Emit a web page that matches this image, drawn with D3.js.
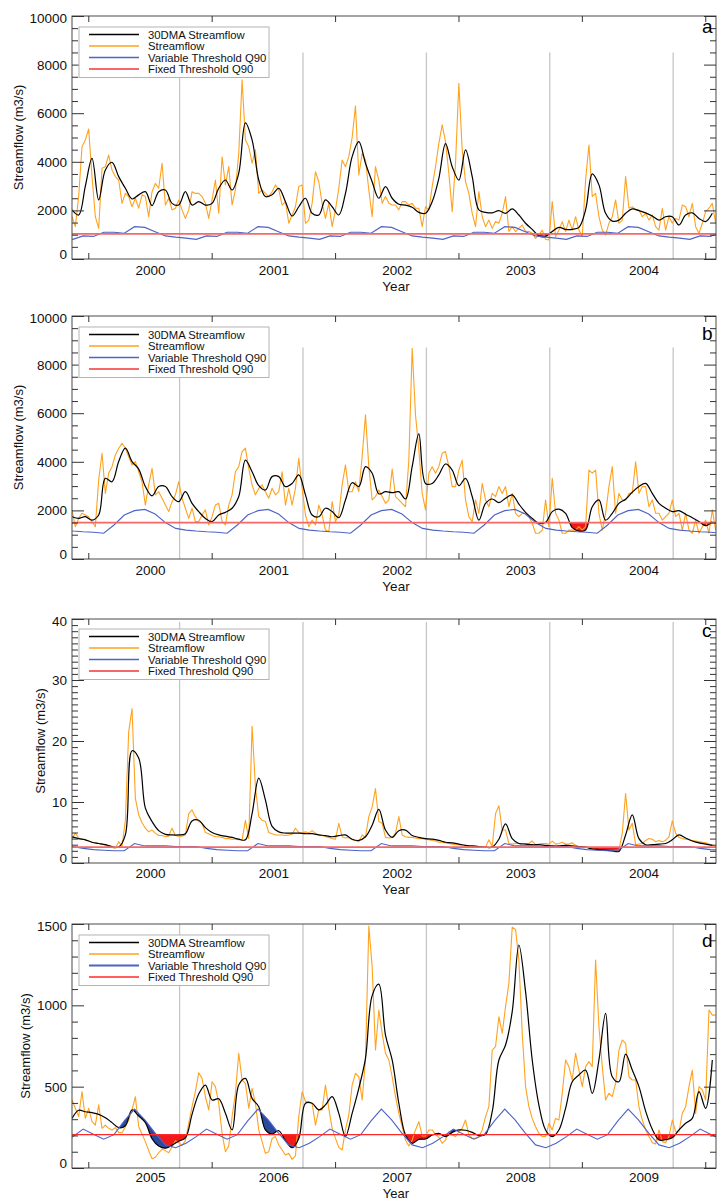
<!DOCTYPE html>
<html><head><meta charset="utf-8">
<script src="https://cdnjs.cloudflare.com/ajax/libs/d3/7.8.5/d3.min.js"></script>
<style>
body{margin:0;background:#fff;}
svg{display:block;font-family:"Liberation Sans",Arial,Helvetica,sans-serif;}
</style></head><body>
<svg id="chart" width="717" height="1201"></svg>
<script>
// ---------------- DATA ----------------
const yearsAC = [2000, 2001, 2002, 2003, 2004];
const yearsD = [2005, 2006, 2007, 2008, 2009];
const domainAC = [1999.868, 2005.087];
const domainD = [2004.868, 2010.087];
const STEP_FLOW = 1 / 37;   // years between streamflow samples
const STEP_DMA = 2 / 37;    // years between 30DMA samples
const WATER_YEAR_FRAC = 0.74; // vertical reference lines (water-year start)

// Panel a (m3/s)
const flowA = [1740,1330,2570,4620,4900,5350,3390,1740,1260,3730,3800,4280,3660,3390,3250,2290,2700,2570,2150,2500,
2090,2640,2570,1740,2770,3110,2910,3940,2220,2500,2020,2090,2430,2020,1670,2020,2770,2700,2700,2570,
2290,1670,2430,3250,1880,4210,3050,3800,2220,2840,4350,7370,4900,4620,3940,4490,2700,2840,2700,2570,
2770,3050,2840,2220,2360,1470,1810,2150,2980,3050,1470,1600,2290,3590,3180,2290,1670,2290,1330,2020,
2910,4070,3800,4210,5000,6300,3460,
4350,4075,2840,1740,3800,3250,2290,2570,2290,2220,2220,2020,2360,2360,2220,2290,2090,2090,1330,2150,
2020,2980,3800,4760,5520,4830,3530,1950,3940,7230,4490,3180,2700,1880,1330,2770,1740,1330,1600,1260,
1540,1470,1880,2570,1130,1330,1130,1260,1400,1130,1130,1060,850,990,1190,810,780,2360,920,1190,
1540,1130,1600,1190,1740,1190,920,3250,4690,2570,2700,1740,1190,990,1470,1740,2430,1470,1600,3390,
2090,2150,2020,2020,1740,1880,1600,1810,1330,1190,2090,1190,1740,1470,1670,1600,2220,2150,1740,2290,
1330,1060,1470,1950,2090,2290,1470];
const dmaA = [2020,1810,3000,4140,2430,3660,3980,3390,2910,2470,2640,2770,2200,2770,2840,2290,2220,2770,2220,2360,
2220,2290,2910,3250,2840,3530,5600,4900,3250,2570,2640,2910,2360,1770,2150,2500,1880,1810,2430,2150,
1810,2700,4210,4830,
3940,3180,2500,2980,2500,2250,2220,2130,1920,1880,2360,3320,4750,3800,3250,4490,3390,2020,1920,1900,
1990,1880,2060,1810,1470,1220,950,930,1130,1300,1220,1220,1300,2020,3500,3050,1880,1560,1600,1880,
2060,1990,1900,1770,1600,1740,1740,1400,1810,1900,1670,1540,1880];
const varQ90A = [930,1100,1100,1060,1330,1300,1120,950,900,860,810,950]; // Jan..Dec
const fixedQ90A = 1030;

// Panel b (m3/s)
const flowB = [2020,1330,1670,1880,1810,1740,1540,1330,3250,4350,2700,3530,3800,4280,4560,4760,4560,4210,3870,4010,
3590,3180,2220,3050,3730,2640,2770,2500,2220,1950,2360,2640,3180,2500,2090,1670,2090,1540,1540,1810,
2020,1400,1740,2220,2290,1540,1400,2220,2640,3590,3800,4420,4560,3730,3050,2640,2910,3050,2770,2500,
2910,2640,2770,3590,2220,2910,2220,2910,4140,2910,1810,1330,1600,1400,2220,1810,1190,1130,2360,1540,
1810,3050,3870,2770,2770,3180,2770,
4210,5930,3800,2430,2570,2840,2570,2290,2430,3700,2570,2430,2290,2150,4070,8670,5930,4490,2700,2020,
3530,3800,3530,3800,4350,4420,3800,2980,2980,3660,4070,2430,1740,1540,2430,1880,3110,2430,2150,2700,
2570,2980,2700,2980,2150,2700,1880,1740,1880,1880,1740,1470,1060,1060,1190,2430,1330,3320,1880,1600,
1060,1060,1190,1190,1190,1330,1190,1330,3660,3530,3660,1880,1190,1880,2980,3800,1880,2700,2430,2430,
2700,2700,4000,2700,2980,2980,2150,2430,1880,1880,1600,1740,1880,2430,1740,1880,1190,1880,1190,1060,
1600,1060,1330,1600,1060,2020,1190];
const dmaB = [1740,1670,1740,1600,1810,3320,3180,4010,4560,4010,3700,2980,2600,2980,2980,2570,2360,2770,2290,1950,
1670,1540,1810,1920,2090,2570,4070,3590,3020,2840,3390,3390,2980,3110,3460,2640,1810,1740,2090,1950,
1700,2430,3140,2980,
3800,3530,2680,2770,2730,2770,2470,3800,5150,3110,3110,3460,3910,3660,3020,3320,2570,1600,2290,2470,
2320,2500,2640,2260,1920,1670,1470,1510,1950,2050,1880,1290,1150,1190,2150,2430,1600,1880,2290,2460,
2750,2980,3110,2700,2290,2090,1950,1990,1840,1700,1540,1370,1540];
const varQ90B = [1100,1060,1400,1810,1990,2040,1850,1500,1260,1190,1150,1120];
const fixedQ90B = 1500;

// Panel c (m3/s)
const flowC = [4.0,4.9,4.1,3.9,3.8,3.6,3.4,3.3,3.2,3.1,2.9,2.7,2.6,2.4,3.5,2.7,7.0,21.5,25.3,10.6,
7.9,6.6,5.7,5.1,5.4,4.9,4.5,4.5,4.3,4.4,5.7,4.5,4.4,4.4,4.6,8.1,8.7,7.6,6.8,6.5,
5.0,4.8,4.5,4.3,4.3,4.2,4.0,4.0,3.9,3.9,3.8,3.8,7.0,4.0,22.4,12.5,7.6,7.0,6.8,5.0,
4.8,4.6,4.6,4.6,4.5,4.6,4.7,5.7,5.0,4.9,5.1,4.9,5.3,4.9,4.6,4.5,4.3,4.2,4.0,3.9,
6.5,4.3,4.1,4.2,3.8,3.7,3.5,
4.6,4.2,7.6,9.2,12.2,6.8,6.5,4.2,4.1,4.2,4.9,7.6,4.6,4.3,4.2,4.2,4.1,4.0,4.0,3.9,
3.8,3.7,3.6,3.4,3.4,3.3,3.2,3.1,3.0,3.0,2.8,2.8,2.7,2.7,2.6,2.6,2.6,2.6,3.8,2.7,
8.1,9.4,5.4,5.4,3.2,3.1,3.2,3.2,3.2,3.2,3.2,3.6,3.0,3.1,3.2,3.2,3.1,3.6,3.1,3.2,
3.4,3.1,3.1,3.3,2.9,2.7,2.6,2.6,2.5,2.3,2.2,2.2,2.1,2.1,2.0,2.0,2.1,2.1,4.9,11.4,
5.4,6.5,3.0,3.1,3.2,3.7,4.0,3.9,3.5,3.7,3.5,3.7,4.3,6.9,4.9,4.2,4.0,3.9,3.8,3.7,
3.6,3.5,3.4,3.3,3.1,2.9,2.7];
const dmaC = [4.3,4.0,3.8,3.4,3.2,3.0,2.7,2.6,4.6,18.4,17.2,9.0,6.8,5.3,4.7,4.6,4.6,4.8,6.9,7.0,
5.8,5.0,4.6,4.4,4.2,3.9,3.8,8.1,13.9,10.3,6.0,5.1,4.9,4.9,4.9,4.8,4.8,4.6,4.5,4.3,
4.5,4.6,3.9,3.7,
4.3,6.2,8.8,5.4,4.2,5.3,5.4,4.5,4.2,4.0,3.9,3.7,3.4,3.3,3.1,2.9,2.8,2.7,2.6,2.6,
3.9,6.4,4.0,3.2,3.1,3.0,3.0,2.9,2.8,2.8,2.9,2.8,2.7,2.6,2.3,2.2,2.1,2.0,1.9,4.6,
7.9,4.0,3.0,3.0,3.1,3.2,3.8,4.6,4.1,3.6,3.3,3.1,2.9];
const varQ90C = [2.2,2.1,2.0,2.0,3.2,2.8,2.8,2.8,2.7,2.7,2.7,2.4];
const fixedQ90C = 2.6;

// Panel d (m3/s)
const flowD = [418,367,316,470,305,367,285,264,388,244,264,244,234,248,219,217,254,295,357,438,
254,209,162,107,57,66,94,115,107,94,131,168,156,139,168,275,377,469,586,551,
438,357,530,500,398,213,100,135,316,459,705,541,520,367,490,398,234,162,90,100,
182,193,141,111,80,90,53,74,316,469,408,408,398,264,357,357,510,367,244,182,
127,111,234,326,510,582,561,
418,664,1488,1238,725,971,828,705,664,561,439,336,254,172,135,172,234,285,197,197,
234,234,207,189,152,172,223,203,193,223,244,295,203,182,182,193,234,316,377,725,
746,930,828,992,1135,1480,1467,1279,828,500,377,305,254,213,193,193,275,234,305,295,
459,664,623,541,705,602,500,623,654,623,1279,869,623,418,459,439,520,725,787,766,
561,541,541,377,295,234,193,156,148,234,162,156,193,295,223,223,336,377,500,602,
336,500,480,418,971,940,940];
const dmaD = [305,355,346,340,330,309,279,248,260,357,320,279,180,135,122,140,165,185,330,455,
510,418,426,336,234,510,551,428,377,234,209,229,168,125,182,398,398,357,388,439,
336,193,336,490,
674,1060,1130,817,664,398,203,152,176,178,203,213,193,219,234,232,219,199,207,346,
664,756,961,1371,1084,664,387,234,193,234,367,530,572,602,459,664,950,561,530,700,
602,500,350,238,172,174,186,234,275,305,469,367,664];
const varQ90D = [208,177,205,290,362,296,214,142,125,152,193,239];
const fixedQ90D = 205;

const legendLabels = ["30DMA Streamflow", "Streamflow", "Variable Threshold Q90", "Fixed Threshold Q90"];
const panelLetters = ["a", "b", "c", "d"];
const yTitle = "Streamflow (m3/s)";
const xTitle = "Year";

// ---------------- PANEL SETUP ----------------
const panels = [
  {years: yearsAC, domain: domainAC, flow: flowA, dma: dmaA, varQ: varQ90A, fixed: fixedQ90A, yMax: 10000, major: 2000, minor: 500, grayTop: 8500, blueFill: false},
  {years: yearsAC, domain: domainAC, flow: flowB, dma: dmaB, varQ: varQ90B, fixed: fixedQ90B, yMax: 10000, major: 2000, minor: 500, grayTop: 8700, blueFill: false},
  {years: yearsAC, domain: domainAC, flow: flowC, dma: dmaC, varQ: varQ90C, fixed: fixedQ90C, yMax: 40, major: 10, minor: 1, grayTop: 39.5, blueFill: false},
  {years: yearsD, domain: domainD, flow: flowD, dma: dmaD, varQ: varQ90D, fixed: fixedQ90D, yMax: 1500, major: 500, minor: 100, grayTop: 1500, blueFill: true}
];
const layouts = [
  {top: 16, bottom: 259, ytx: 18, legTop: 27, letterY: 33, pad: 6.5, yearBase: 291, yearSize: 13.5},
  {top: 316, bottom: 559, ytx: 18, legTop: 327, letterY: 340, pad: 6.5, yearBase: 591, yearSize: 13.5},
  {top: 619, bottom: 863, ytx: 40, legTop: 629, letterY: 637, pad: 5.5, yearBase: 894, yearSize: 13.5},
  {top: 924, bottom: 1168, ytx: 25, legTop: 935, letterY: 947, pad: 4.5, yearBase: 1197.5, yearSize: 13}
];
const styles = [
  {orange: "#ffa21f", black: "#000", blue: "#4d63c6", blueW: 1.1, red: "#f46868", redW: 1.8, legBlueW: 1.3, legRedW: 2},
  {orange: "#ffa21f", black: "#000", blue: "#4d63c6", blueW: 1.1, red: "#f46868", redW: 1.8, legBlueW: 1.3, legRedW: 2},
  {orange: "#ffa21f", black: "#000", blue: "#4d63c6", blueW: 1.1, red: "#f46868", redW: 1.8, legBlueW: 1.3, legRedW: 2},
  {orange: "#ffa21f", black: "#000", blue: "#4d63c6", blueW: 1.1, red: "#ff2a2a", redW: 1.2, legBlueW: 2.2, legRedW: 1.3}
];
const L = 72, R = 716;

const svg = d3.select("#chart");
const defs = svg.append("defs");

panels.forEach((p, k) => {
  const lay = layouts[k], st = styles[k];
  const x = d3.scaleLinear().domain(p.domain).range([L, R]);
  const y = d3.scaleLinear().domain([0, p.yMax]).range([lay.bottom, lay.top]);
  const start = p.domain[0];
  const flowPts = p.flow.map((v, i) => ({t: start + i * STEP_FLOW, v}));
  const dmaPts = p.dma.map((v, i) => ({t: start + i * STEP_DMA, v}));
  const varPts = [];
  for (let yr = p.years[0] - 1; yr <= p.years[p.years.length - 1] + 1; yr++) {
    p.varQ.forEach((v, m) => varPts.push({t: yr + (m + 0.5) / 12, v}));
  }

  const g = svg.append("g");
  const cid = "clip" + k;
  defs.append("clipPath").attr("id", cid).append("rect")
    .attr("x", L).attr("y", lay.top).attr("width", R - L).attr("height", lay.bottom - lay.top);
  const plot = g.append("g").attr("clip-path", `url(#${cid})`);

  // water-year reference lines
  plot.selectAll("line.wy").data(p.years).join("line")
    .attr("x1", d => x(d + WATER_YEAR_FRAC)).attr("x2", d => x(d + WATER_YEAR_FRAC))
    .attr("y1", y(p.grayTop)).attr("y2", lay.bottom)
    .attr("stroke", "#c6c6c6").attr("stroke-width", 1.3);

  const aboveDma = d3.area().x(d => x(d.t)).y0(lay.top).y1(d => y(d.v)).curve(d3.curveCatmullRom);

  // fixed threshold deficit fill
  const fid = "fix" + k;
  defs.append("clipPath").attr("id", fid).append("rect")
    .attr("x", L).attr("y", y(p.fixed)).attr("width", R - L).attr("height", lay.bottom - y(p.fixed));
  plot.append("path").datum(dmaPts).attr("d", aboveDma)
    .attr("fill", "#f01a1a").attr("clip-path", `url(#${fid})`);

  // variable threshold deficit fill
  if (p.blueFill) {
    const vid = "var" + k;
    defs.append("clipPath").attr("id", vid).append("path").datum(varPts)
      .attr("d", d3.area().x(d => x(d.t)).y0(lay.bottom).y1(d => y(d.v)));
    plot.append("path").datum(dmaPts).attr("d", aboveDma)
      .attr("fill", "#2c4a9c").attr("clip-path", `url(#${vid})`);
  }

  // lines
  plot.append("path").datum(flowPts)
    .attr("d", d3.line().x(d => x(d.t)).y(d => y(d.v)))
    .attr("fill", "none").attr("stroke", st.orange).attr("stroke-width", 1.1).attr("stroke-linejoin", "round");
  plot.append("path").datum(dmaPts)
    .attr("d", d3.line().x(d => x(d.t)).y(d => y(d.v)).curve(d3.curveCatmullRom))
    .attr("fill", "none").attr("stroke", st.black).attr("stroke-width", 1.2);
  plot.append("path").datum(varPts)
    .attr("d", d3.line().x(d => x(d.t)).y(d => y(d.v)))
    .attr("fill", "none").attr("stroke", st.blue).attr("stroke-width", st.blueW);
  plot.append("line").attr("x1", L).attr("x2", R).attr("y1", y(p.fixed)).attr("y2", y(p.fixed))
    .attr("stroke", st.red).attr("stroke-width", st.redW);

  // frame
  g.append("rect").attr("x", L).attr("y", lay.top).attr("width", R - L).attr("height", lay.bottom - lay.top)
    .attr("fill", "none").attr("stroke", "#4a4a4a").attr("stroke-width", 1);

  // axes
  const majors = d3.range(0, p.yMax + p.major / 2, p.major);
  const minors = d3.range(0, p.yMax + p.minor / 2, p.minor).filter(v => Math.abs(v / p.major - Math.round(v / p.major)) > 1e-6);
  const yFmt = d3.format("d");
  const leftAx = g.append("g").attr("transform", `translate(${L},0)`)
    .call(d3.axisLeft(y).tickValues(majors).tickSize(-12).tickPadding(5).tickFormat(yFmt));
  leftAx.selectAll("text").attr("dy", (d) => d === 0 ? "-0.05em" : (d === p.yMax ? "0.5em" : "0.34em"))
    .style("font-size", "13.5px").attr("fill", "#111");
  g.append("g").attr("transform", `translate(${L},0)`)
    .call(d3.axisLeft(y).tickValues(minors).tickSize(-6).tickFormat(""));
  g.append("g").attr("transform", `translate(${R},0)`)
    .call(d3.axisRight(y).tickValues(majors).tickSize(-12).tickFormat(""));
  g.append("g").attr("transform", `translate(${R},0)`)
    .call(d3.axisRight(y).tickValues(minors).tickSize(-6).tickFormat(""));
  const yrTicks = p.years.concat([p.years[p.years.length - 1] + 1]);
  g.append("g").attr("transform", `translate(0,${lay.bottom})`)
    .call(d3.axisBottom(x).tickValues(yrTicks).tickSize(-6).tickFormat(""));
  g.append("g").attr("transform", `translate(0,${lay.top})`)
    .call(d3.axisTop(x).tickValues(yrTicks).tickSize(-6).tickFormat(""));
  const lab = g.append("g").attr("transform", `translate(0,${lay.bottom})`)
    .call(d3.axisBottom(x).tickValues(p.years.map(v => v + 0.5)).tickSize(0).tickPadding(lay.pad).tickFormat(d => String(Math.floor(d))));
  lab.selectAll("text").style("font-size", "13.5px").attr("fill", "#111");
  g.selectAll(".domain").remove();
  g.selectAll(".tick line").attr("stroke", "#333").attr("stroke-width", 1);

  // titles
  g.append("text").attr("x", 396).attr("y", lay.yearBase).attr("text-anchor", "middle")
    .style("font-size", lay.yearSize + "px").attr("fill", "#111").text(xTitle);
  g.append("text").attr("transform", `translate(${lay.ytx},${(lay.top + lay.bottom) / 2}) rotate(-90)`)
    .attr("text-anchor", "middle").attr("dy", "0.35em")
    .style("font-size", "13px").attr("fill", "#111").text(yTitle);
  g.append("text").attr("x", 702).attr("y", lay.letterY).style("font-size", "19px").attr("fill", "#000").text(panelLetters[k]);

  // legend
  const leg = g.append("g");
  leg.append("rect").attr("x", 79).attr("y", lay.legTop).attr("width", 190).attr("height", 50.5)
    .attr("fill", "#fff").attr("stroke", "#b4b4b4").attr("stroke-width", 1);
  const legStyle = [
    {c: st.black, w: 1.3}, {c: st.orange, w: 1.3}, {c: st.blue, w: st.legBlueW}, {c: st.red, w: st.legRedW}
  ];
  legendLabels.forEach((txt, i) => {
    const yy = lay.legTop + 7.5 + i * 11.5;
    leg.append("line").attr("x1", 89).attr("x2", 139).attr("y1", yy).attr("y2", yy)
      .attr("stroke", legStyle[i].c).attr("stroke-width", legStyle[i].w);
    leg.append("text").attr("x", 148).attr("y", yy).attr("dy", "0.36em")
      .style("font-size", "11.3px").attr("fill", "#111").text(txt);
  });
});
</script>
</body></html>
